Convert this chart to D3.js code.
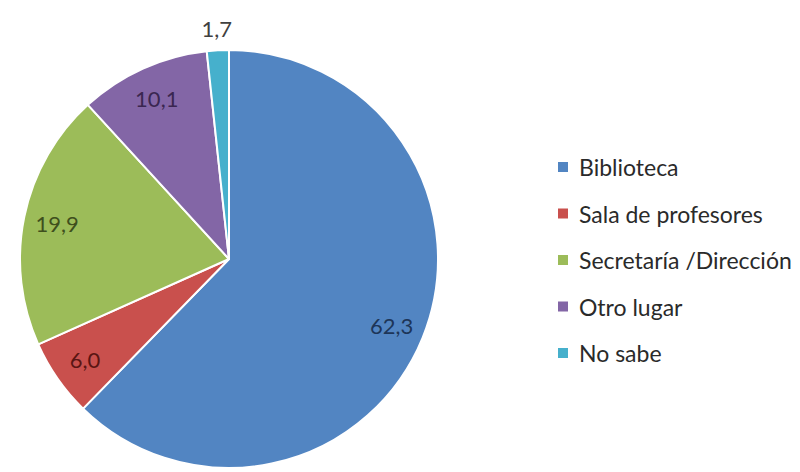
<!DOCTYPE html>
<html><head><meta charset="utf-8">
<script src="https://cdn.jsdelivr.net/npm/d3@7"></script>
<style>html,body{margin:0;padding:0;background:#fff;}svg{display:block;}</style>
</head><body>
<svg id="chart" width="800" height="472"></svg>
<script>
const categories = ["Biblioteca", "Sala de profesores", "Secretaría /Dirección", "Otro lugar", "No sabe"];
const values = [62.3, 6.0, 19.9, 10.1, 1.7];
const valueLabels = ["62,3", "6,0", "19,9", "10,1", "1,7"];
const colors = ["#5285c2", "#c9504d", "#9cbc59", "#8366a6", "#46b0cc"];
const labelColors = ["#1d3558", "#5a1513", "#3f4f1d", "#3a2650", "#404040"];

const svg = d3.select("#chart");
const cx = 229, cy = 259, r = 209;
const g = svg.append("g").attr("transform", `translate(${cx},${cy})`);
const pie = d3.pie().sort(null).value(d => d.v);
const data = pie(categories.map((c, i) => ({c, v: values[i], i})));
const arc = d3.arc().innerRadius(0).outerRadius(r);

g.selectAll("path").data(data).join("path")
  .attr("d", arc)
  .attr("fill", d => colors[d.data.i])
  .attr("stroke", "#fff").attr("stroke-width", 2).attr("stroke-linejoin", "round");

const inArc = d3.arc().innerRadius(r * 0.84).outerRadius(r * 0.84);
const outArc = d3.arc().innerRadius(r * 1.105).outerRadius(r * 1.105);
g.selectAll("text.lbl").data(data).join("text")
  .attr("class", "lbl")
  .attr("transform", d => `translate(${(d.data.v < 3 ? outArc : inArc).centroid(d)})`)
  .attr("text-anchor", "middle").attr("dominant-baseline", "central")
  .attr("font-family", "Lato, sans-serif").attr("font-size", 22)
  .attr("fill", d => labelColors[d.data.i])
  .text(d => valueLabels[d.data.i]);

const legend = svg.append("g").attr("transform", "translate(558,167)");
const rowH = 46.5;
const items = legend.selectAll("g").data(categories).join("g")
  .attr("transform", (d, i) => `translate(0,${i * rowH})`);
items.append("rect").attr("x", 0).attr("y", -5).attr("width", 10).attr("height", 10)
  .attr("fill", (d, i) => colors[i]);
items.append("text").attr("x", 21).attr("y", 0).attr("dominant-baseline", "central")
  .attr("font-family", "Lato, sans-serif").attr("font-size", 23).attr("fill", "#2a2a2a")
  .text(d => d);
</script>
</body></html>
